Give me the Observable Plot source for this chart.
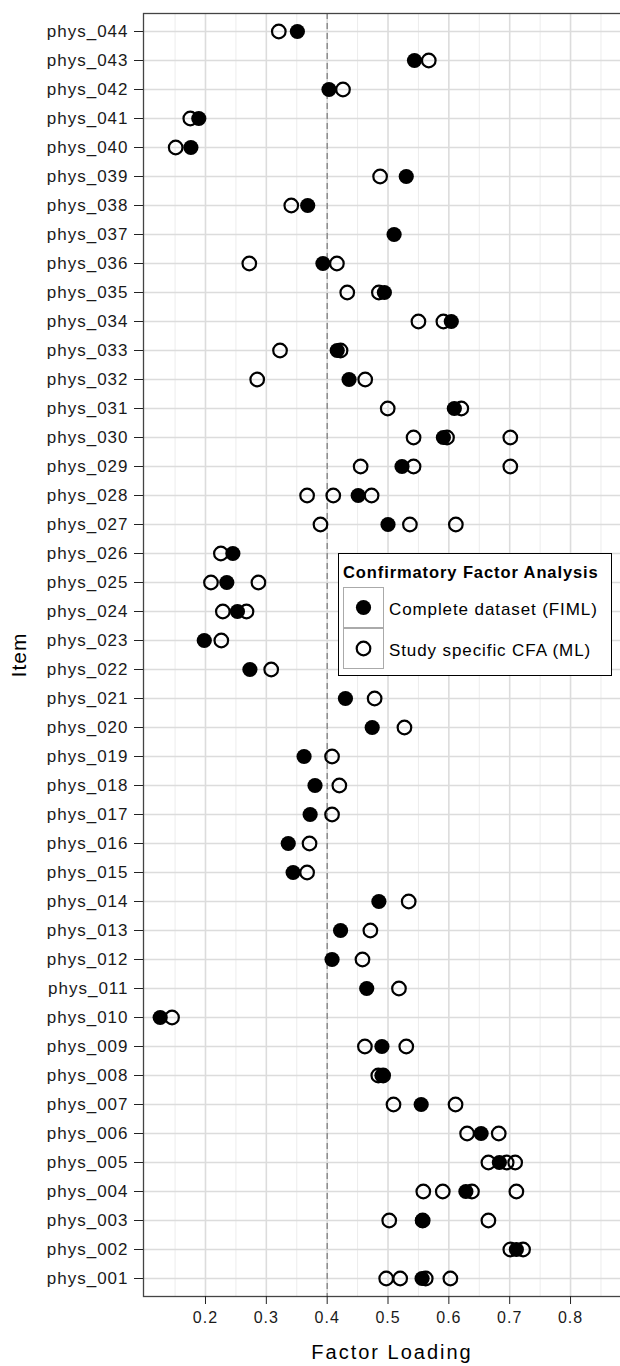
<!DOCTYPE html>
<html>
<head>
<meta charset="utf-8">
<script src="https://cdn.jsdelivr.net/npm/d3@7"></script>
<script src="https://cdn.jsdelivr.net/npm/@observablehq/plot@0.6"></script>
<style>
  html, body { margin: 0; padding: 0; background: #fff; overflow: hidden; }
  #wrap { position: relative; width: 620px; height: 1366px; overflow: hidden; font-family: "Liberation Sans", Arial, sans-serif; }
  #wrap svg { font-family: "Liberation Sans", Arial, sans-serif; overflow: hidden; display: block; }
  g[aria-label="y-axis tick label"] text { font-size: 17px; letter-spacing: 1px; fill: #1a1a1a; }
  g[aria-label="x-axis tick label"] text { font-size: 16px; letter-spacing: 1px; fill: #1a1a1a; }
  g[aria-label="x-axis label"] text { font-size: 20px; letter-spacing: 2px; fill: #000; }
  g[aria-label="y-axis label"] text { font-size: 21px; letter-spacing: 1px; fill: #000; }
  #legend { position: absolute; left: 338px; top: 553px; width: 272px; height: 121px; border: 1.5px solid #000; background: #fff; }
  #legend .title { position: absolute; left: 4px; top: 9px; font-size: 16.5px; font-weight: bold; letter-spacing: 0.9px; white-space: nowrap; color: #000; }
  #legend .key { position: absolute; left: 4px; width: 39px; height: 39px; border: 1.5px solid #aaa; }
  #legend .lab { position: absolute; left: 50px; font-size: 17px; letter-spacing: 0.9px; white-space: nowrap; color: #000; }
</style>
</head>
<body>
<div id="wrap"></div>
<script>
// ---- data ----
const items = ["phys_001","phys_002","phys_003","phys_004","phys_005","phys_006","phys_007","phys_008","phys_009","phys_010",
  "phys_011","phys_012","phys_013","phys_014","phys_015","phys_016","phys_017","phys_018","phys_019","phys_020",
  "phys_021","phys_022","phys_023","phys_024","phys_025","phys_026","phys_027","phys_028","phys_029","phys_030",
  "phys_031","phys_032","phys_033","phys_034","phys_035","phys_036","phys_037","phys_038","phys_039","phys_040",
  "phys_041","phys_042","phys_043","phys_044"];

// Complete dataset (FIML), one loading per item
const fiml = [0.556, 0.711, 0.5565, 0.628, 0.683, 0.653, 0.5545, 0.490, 0.490, 0.1255,
  0.465, 0.408, 0.422, 0.485, 0.344, 0.336, 0.372, 0.380, 0.362, 0.474,
  0.430, 0.273, 0.198, 0.2525, 0.235, 0.245, 0.500, 0.451, 0.523, 0.591,
  0.609, 0.436, 0.4165, 0.604, 0.494, 0.393, 0.510, 0.368, 0.530, 0.176,
  0.189, 0.403, 0.5435, 0.351];

// Study specific CFA (ML), several studies per item
const ml = [
  [0.497, 0.520, 0.562, 0.6025],
  [0.701, 0.722],
  [0.502, 0.557, 0.665],
  [0.558, 0.590, 0.638, 0.711],
  [0.665, 0.695, 0.709],
  [0.630, 0.682],
  [0.509, 0.611],
  [0.484, 0.492],
  [0.462, 0.530],
  [0.145],
  [0.518],
  [0.458],
  [0.471],
  [0.534],
  [0.367],
  [0.371],
  [0.408],
  [0.420],
  [0.408],
  [0.527],
  [0.478],
  [0.308],
  [0.226],
  [0.2285, 0.2674],
  [0.209, 0.287],
  [0.2253],
  [0.389, 0.536, 0.6115],
  [0.367, 0.410, 0.473],
  [0.455, 0.542, 0.701],
  [0.542, 0.597, 0.701],
  [0.4995, 0.6205],
  [0.285, 0.4625],
  [0.3225, 0.422],
  [0.550, 0.591],
  [0.433, 0.485],
  [0.272, 0.416],
  [],
  [0.341],
  [0.487],
  [0.151],
  [0.175],
  [0.426],
  [0.567],
  [0.3205]
];

const xTicks = [0.2, 0.3, 0.4, 0.5, 0.6, 0.7, 0.8];
const xMinorTicks = [0.15, 0.25, 0.35, 0.45, 0.55, 0.65, 0.75, 0.85];
const cutoff = [0.4];
const legendTitle = "Confirmatory Factor Analysis";
const seriesNames = ["Complete dataset (FIML)", "Study specific CFA (ML)"];

// ---- tables ----
const fimlRows = items.map((item, i) => ({item, value: fiml[i]}));
const mlRows = items.flatMap((item, i) => ml[i].map(v => ({item, value: v})));
const yDomain = items.slice().reverse();

const chart = Plot.plot({
  width: 620,
  height: 1366,
  marginLeft: 143,
  marginRight: -20,
  marginTop: 13,
  marginBottom: 70,
  style: {background: "#fff", overflow: "hidden"},
  x: {domain: [0.0981, 0.915]},
  y: {type: "point", domain: yDomain, padding: 0.6},
  marks: [
    Plot.ruleX(xMinorTicks, {stroke: "#ececec", strokeWidth: 1}),
    Plot.ruleX(xTicks, {stroke: "#dcdcdc", strokeWidth: 1.6}),
    Plot.ruleY(items, {y: d => d, stroke: "#dcdcdc", strokeWidth: 1.6}),
    Plot.ruleX(cutoff, {stroke: "#7a7a7a", strokeWidth: 1.2, strokeDasharray: "6,4"}),
    Plot.dot(mlRows, {x: "value", y: "item", r: 6.8, stroke: "#000", strokeWidth: 2.2, fill: "none"}),
    Plot.dot(fimlRows, {x: "value", y: "item", r: 7.6, fill: "#000", stroke: "none"}),
    Plot.frame({stroke: "#444", strokeWidth: 1.3}),
    Plot.axisX({ticks: xTicks, tickFormat: d3.format(".1f"), tickSize: 8, tickPadding: 7, stroke: "#222",
      label: "Factor Loading", labelAnchor: "center", labelArrow: "none", labelOffset: 62}),
    Plot.axisY({tickSize: 9, tickPadding: 6, stroke: "#222",
      label: "Item", labelAnchor: "center", labelArrow: "none", labelOffset: 132})
  ]
});

const wrap = document.getElementById("wrap");
wrap.appendChild(chart);

// ---- legend (inside panel, as in the reference) ----
const leg = document.createElement("div");
leg.id = "legend";
const keySvg = (filled) => filled
  ? `<svg width="39" height="39"><circle cx="19.5" cy="19.5" r="7.6" fill="#000"/></svg>`
  : `<svg width="39" height="39"><circle cx="19.5" cy="19.5" r="6.8" fill="none" stroke="#000" stroke-width="2.2"/></svg>`;
leg.innerHTML = `
  <div class="title">${legendTitle}</div>
  <div class="key" style="top:33px">${keySvg(true)}</div>
  <div class="key" style="top:74px">${keySvg(false)}</div>
  <div class="lab" style="top:46px">${seriesNames[0]}</div>
  <div class="lab" style="top:87px">${seriesNames[1]}</div>`;
wrap.appendChild(leg);
</script>
</body>
</html>
